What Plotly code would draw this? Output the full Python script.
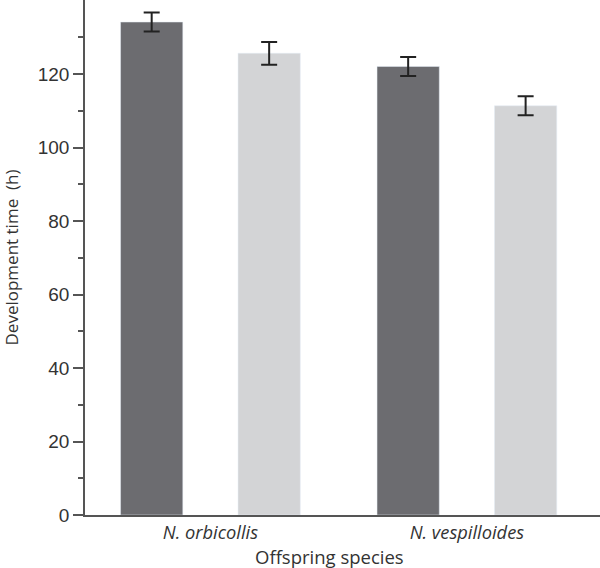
import plotly.graph_objects as go

species = ["<i>N. orbicollis</i>", "<i>N. vespilloides</i>"]
dark_vals = [134.2, 122.1]
dark_err = [2.6, 2.6]
light_vals = [125.7, 111.4]
light_err = [3.1, 2.6]

fig = go.Figure()
fig.add_trace(go.Bar(
    x=species, y=dark_vals,
    marker_color='#6c6c70',
    error_y=dict(type='data', array=dark_err, color='#222222', thickness=2, width=8),
))
fig.add_trace(go.Bar(
    x=species, y=light_vals,
    marker_color='#d3d4d6',
    error_y=dict(type='data', array=light_err, color='#222222', thickness=2, width=8),
))

fig.update_layout(
    width=600, height=568,
    barmode='group', bargap=0.084, bargroupgap=0.47,
    showlegend=False,
    plot_bgcolor='white', paper_bgcolor='white',
    margin=dict(l=85, r=0, t=0, b=53, autoexpand=False),
    font=dict(family="Liberation Sans, Arial", size=16, color='#333333'),
)
fig.update_xaxes(
    range=[-0.489, 1.519],
    automargin=False,
    showline=True, linecolor='#555555', linewidth=1.5,
    ticks='',
    tickfont=dict(family="Open Sans", size=18.3, color='#333333'),
)
# x title sits a little left of the plot centre in the original
fig.add_annotation(
    text="Offspring species", xref='paper', yref='paper',
    x=0.4748, y=0, xanchor='center', yanchor='top', yshift=-28,
    showarrow=False, borderpad=0,
    font=dict(family="Open Sans", size=18.5, color='#333333'),
)
fig.update_yaxes(
    range=[0, 140.2],
    automargin=False,
    tickvals=[0, 20, 40, 60, 80, 100, 120],
    showline=True, linecolor='#555555', linewidth=1.5,
    showgrid=False, zeroline=False,
    ticks='outside', ticklen=10, tickwidth=1.5, tickcolor='#555555',
    tickfont=dict(family="Liberation Sans, Arial", size=19, color='#333333'),
    minor=dict(tickvals=[10, 30, 50, 70, 90, 110, 130], ticks='outside', ticklen=5, tickwidth=1.5, tickcolor='#555555'),
    title=dict(text="Development time  (h)", font=dict(family="Open Sans", size=17, color='#333333'), standoff=15),
)

# drop the default 8px page margin so the figure sits at the window corner
fig.write_html("out.html", config={'displayModeBar': False},
               post_script="document.body.style.margin='0';")
